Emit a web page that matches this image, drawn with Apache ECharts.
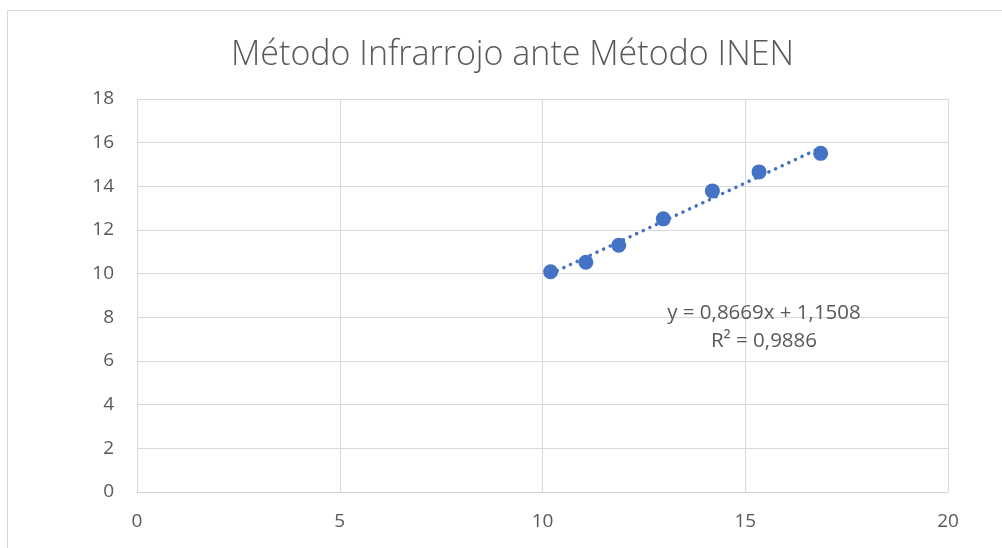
<!DOCTYPE html>
<html><head><meta charset="utf-8">
<script src="https://cdn.jsdelivr.net/npm/echarts@6/dist/echarts.min.js"></script>
<style>html,body{margin:0;padding:0;background:#fff}#c{width:1002px;height:548px}</style>
</head><body><div id="c"></div>
<script>
const titleText = 'Método Infrarrojo ante Método INEN';
const xValues = [10.20, 11.07, 11.88, 12.98, 14.19, 15.34, 16.86];
const yValues = [10.09, 10.52, 11.30, 12.51, 13.79, 14.66, 15.51];
const slope = 0.8669;
const intercept = 1.1508;
const equationLines = ['y = 0,8669x + 1,1508', 'R² = 0,9886'];
const xTicks = [0, 5, 10, 15, 20];
const yTicks = [0, 2, 4, 6, 8, 10, 12, 14, 16, 18];

const pts = xValues.map((x, i) => [x, yValues[i]]);
const xMin = Math.min(...xValues), xMax = Math.max(...xValues);
const trend = [[xMin, slope * xMin + intercept], [xMax, slope * xMax + intercept]];
const FONT = '"Open Sans", "Noto Sans", sans-serif';
const chart = echarts.init(document.getElementById('c'), null, {renderer: 'canvas'});
chart.setOption({
  animation: false,
  backgroundColor: '#fff',
  title: {
    text: titleText, left: 226, top: 33,
    textStyle: {fontFamily: FONT, fontWeight: 300, fontSize: 34, color: '#595959'}
  },
  grid: {left: 137, right: 54, top: 99, bottom: 56, containLabel: false},
  xAxis: {
    type: 'value', min: xTicks[0], max: xTicks[xTicks.length - 1], interval: 5,
    axisLine: {show: true, onZero: false, lineStyle: {color: '#d0d0d0', width: 1}},
    axisTick: {show: false},
    splitLine: {show: true, lineStyle: {color: '#d9d9d9', width: 1}},
    axisLabel: {fontFamily: FONT, fontSize: 19, color: '#595959', margin: 20}
  },
  yAxis: {
    type: 'value', min: yTicks[0], max: yTicks[yTicks.length - 1], interval: 2,
    axisLine: {show: false},
    axisTick: {show: false},
    splitLine: {show: true, lineStyle: {color: '#d9d9d9', width: 1}},
    axisLabel: {fontFamily: FONT, fontSize: 19, color: '#595959', margin: 23}
  },
  series: [
    {
      type: 'line', data: trend, symbol: 'none', silent: true, z: 2,
      lineStyle: {color: '#4472C4', width: 3.5, type: [0.1, 7.2], cap: 'round'}
    },
    {
      type: 'scatter', data: pts, symbolSize: 15, z: 3,
      itemStyle: {color: '#4472C4', opacity: 1}
    }
  ],
  graphic: [
    {type: 'rect', shape: {x: 7.5, y: 10.5, width: 1100, height: 1100}, style: {fill: 'none', stroke: '#d9d9d9', lineWidth: 1}, silent: true, z: -1},
    {type: 'text', x: 764, y: 313, style: {text: equationLines[0], font: '20.5px ' + FONT, fill: '#595959', align: 'center', verticalAlign: 'middle'}, z: 10},
    {type: 'text', x: 764, y: 341, style: {text: equationLines[1], font: '20.5px ' + FONT, fill: '#595959', align: 'center', verticalAlign: 'middle'}, z: 10}
  ]
});
</script></body></html>
